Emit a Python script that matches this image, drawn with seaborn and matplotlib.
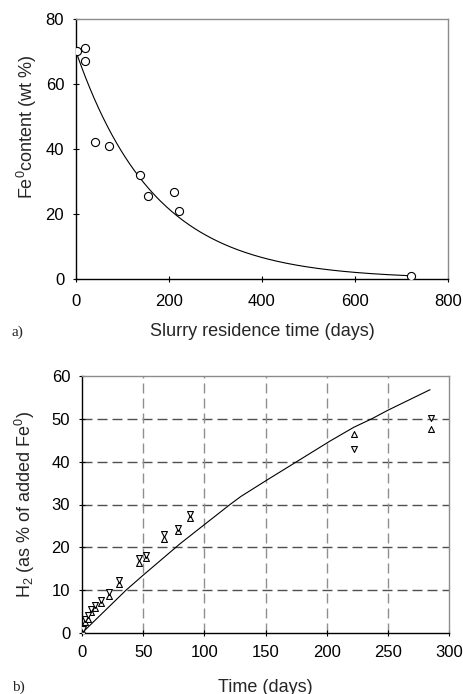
import numpy as np
import pandas as pd
import matplotlib
matplotlib.use("Agg")
import matplotlib.pyplot as plt
import seaborn as sns

# ---- Panel a data ----
res_days = [3, 20, 19, 40, 70, 137, 155, 210, 222, 720]
fe0_wt = [70.2, 71.0, 67.0, 42.1, 40.8, 31.9, 25.5, 26.9, 21.0, 0.8]
# exponential fit: y = fit_a0 * exp(-fit_k * t)
fit_a0 = 70.0
fit_k = 0.0059
fit_tmax = 720

# ---- Panel b data ----
h2_days = [0.5, 2.7, 5.2, 7.4, 10.6, 15.5, 22.3, 30.5, 46.3, 52.3, 67, 78.5, 88.3, 222, 285]
h2_up = [0.2, 2.5, 3.3, 5.0, 5.8, 7.0, 8.7, 11.4, 16.3, 17.6, 22.0, 23.9, 26.9, 46.4, 47.7]
h2_down = [0.9, 3.2, 4.1, 5.7, 6.5, 7.8, 9.5, 12.3, 17.6, 18.2, 23.2, 24.5, 27.8, 42.9, 50.1]
model_days = [0, 36, 50, 80, 100, 121, 130, 150, 175.5, 202.7, 222, 236.8, 250, 284.5]
model_h2 = [0, 10, 13.5, 20.8, 25.3, 30, 31.9, 35.5, 40, 44.8, 48, 50, 52, 56.8]

sns.set_theme(style="white")
plt.rcParams["font.family"] = ["Liberation Sans", "DejaVu Sans"]
plt.rcParams["mathtext.default"] = "regular"

fig = plt.figure(figsize=(4.63, 6.94), dpi=100)
W, H = 463, 694

def add_ax(l, r, t, b):
    return fig.add_axes([l / W, (H - b) / H, (r - l) / W, (b - t) / H])

def style(ax):
    for s in ("left", "bottom"):
        ax.spines[s].set_color("black")
        ax.spines[s].set_linewidth(1.0)
    for s in ("top", "right"):
        ax.spines[s].set_color("#8c8c8c")
        ax.spines[s].set_linewidth(1.0)
    ax.tick_params(direction="inout", length=5, width=0.8, colors="black",
                   labelsize=12, bottom=True, left=True)

# ---- Panel a ----
ax1 = add_ax(76, 448, 19, 279)
t_fit = np.linspace(0, fit_tmax, 300)
df_fit = pd.DataFrame({"t": t_fit, "y": fit_a0 * np.exp(-fit_k * t_fit)})
sns.lineplot(data=df_fit, x="t", y="y", ax=ax1, color="black", lw=0.8,
             estimator=None, sort=False)
sns.scatterplot(x=res_days, y=fe0_wt, ax=ax1, marker="o", s=34,
                facecolor="white", edgecolor="black", linewidth=0.8, zorder=3)
ax1.set_xlim(0, 800)
ax1.set_ylim(0, 80)
ax1.set_xticks([0, 200, 400, 600, 800])
ax1.set_yticks([0, 20, 40, 60, 80])
style(ax1)
ax1.tick_params(axis="x", pad=8)
ax1.tick_params(axis="y", pad=6)
ax1.set_xlabel("Slurry residence time (days)", fontsize=13)
ax1.set_ylabel("Fe$^0$content (wt %)", fontsize=13)
ax1.xaxis.set_label_coords(0.5, -(332 - 279) / 260)
ax1.xaxis.label.set_va("center")
ax1.yaxis.set_label_coords(-(76 - 27) / 372, (279 - 127) / 260)
ax1.yaxis.label.set_va("center")
fig.text(12 / W, (H - 332) / H, "a)", family="Liberation Serif", fontsize=11,
         va="center", ha="left")

# ---- Panel b ----
ax2 = add_ax(82, 449, 376, 633)
for yv in [10, 20, 30, 40, 50]:
    ax2.axhline(yv, color="#505050", lw=1.0, ls=(0, (7.2, 3.6)), zorder=0)
for xv in [50, 100, 150, 200, 250]:
    ax2.axvline(xv, color="#8f8f8f", lw=1.0, ls=(0, (7.2, 3.6)), zorder=0)
df_mod = pd.DataFrame({"t": model_days, "y": model_h2})
sns.lineplot(data=df_mod, x="t", y="y", ax=ax2, color="black", lw=0.8,
             estimator=None, sort=False)
sns.scatterplot(x=h2_days, y=h2_up, ax=ax2, marker="^", s=18,
                facecolor="white", edgecolor="black", linewidth=0.8, zorder=3)
sns.scatterplot(x=h2_days, y=h2_down, ax=ax2, marker="v", s=18,
                facecolor="white", edgecolor="black", linewidth=0.8, zorder=3)
ax2.set_xlim(0, 300)
ax2.set_ylim(0, 60)
ax2.set_xticks([0, 50, 100, 150, 200, 250, 300])
ax2.set_yticks([0, 10, 20, 30, 40, 50, 60])
style(ax2)
ax2.tick_params(axis="x", pad=6)
ax2.tick_params(axis="y", pad=6)
ax2.set_xlabel("Time (days)", fontsize=13)
ax2.set_ylabel("H$_2$ (as % of added Fe$^0$)", fontsize=13)
ax2.xaxis.set_label_coords(0.5, -(687 - 633) / 257)
ax2.xaxis.label.set_va("center")
ax2.yaxis.set_label_coords(-(82 - 25) / 367, 0.5)
ax2.yaxis.label.set_va("center")
fig.text(12 / W, (H - 687) / H, "b)", family="Liberation Serif", fontsize=11,
         va="center", ha="left")

fig.savefig("out.png", dpi=100, facecolor="white")
